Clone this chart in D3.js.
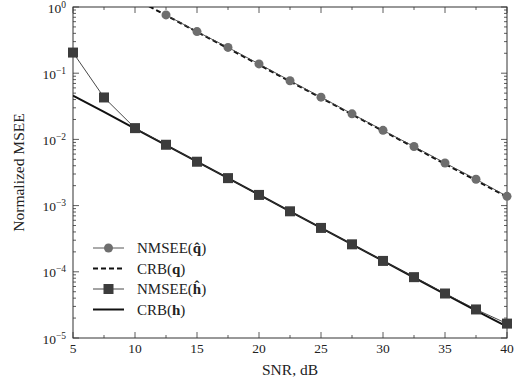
<!DOCTYPE html>
<html>
<head>
<meta charset="utf-8">
<script src="https://cdn.jsdelivr.net/npm/d3@7"></script>
<style>
  body { margin: 0; background: #fff; }
  text { font-family: "Liberation Serif", "DejaVu Serif", serif; fill: #222; }
</style>
</head>
<body>
<div id="chart"></div>
<script>
// SNR grid (dB)
var snr = [5, 7.5, 10, 12.5, 15, 17.5, 20, 22.5, 25, 27.5, 30, 32.5, 35, 37.5, 40]
var snrQ = [10, 12.5, 15, 17.5, 20, 22.5, 25, 27.5, 30, 32.5, 35, 37.5, 40]
var snrQhat = [12.5, 15, 17.5, 20, 22.5, 25, 27.5, 30, 32.5, 35, 37.5, 40]

var nmseeQ = [0.76, 0.425, 0.245, 0.138, 0.077, 0.0435, 0.0243, 0.0137, 0.0078, 0.0044, 0.0025, 0.00138]
var crbQ = [1.33, 0.75, 0.42, 0.238, 0.134, 0.075, 0.0424, 0.0238, 0.0134, 0.0076, 0.00425, 0.0024, 0.00135]
var nmseeH = [0.205, 0.043, 0.0148, 0.0083, 0.0046, 0.0026, 0.00145, 0.00082, 0.00046, 0.00026, 0.000146, 0.000083, 0.000047, 0.000027, 0.0000165]
var crbH = [0.046, 0.026, 0.0146, 0.0082, 0.0046, 0.0026, 0.00146, 0.00082, 0.00046, 0.00026, 0.000146, 0.000082, 0.000046, 0.000026, 0.0000148]

var xTicks = [5, 10, 15, 20, 25, 30, 35, 40]
var yExps = [0, -1, -2, -3, -4, -5]
var legendLabels = ['NMSEE(q̂)', 'CRB(q)', 'NMSEE(ĥ)', 'CRB(h)']

;(function() {
  var W = 526, H = 386,
    mL = 73, mR = 507, mT = 7, mB = 338

  var svg = d3.select('#chart').append('svg').attr('width', W).attr('height', H)

  var x = d3.scaleLinear().domain([5, 40]).range([mL, mR])
  var y = d3.scaleLog().domain([1e-5, 1]).range([mB, mT])

  svg.append('defs').append('clipPath').attr('id', 'clip')
    .append('rect').attr('x', mL).attr('y', mT).attr('width', mR - mL).attr('height', mB - mT)

  // ticks: majors and minors on all four sides, pointing inward
  var minorX = d3.range(7.5, 40, 5)
  var minorY = []
  yExps.slice(0, -1).forEach(function(e) {
    for (var k = 2; k <= 9; k++) minorY.push(k * Math.pow(10, e - 1))
  })

  var tg = svg.append('g').attr('stroke', '#333').attr('stroke-width', 0.8)
  xTicks.forEach(function(v) {
    tg.append('line').attr('x1', x(v)).attr('x2', x(v)).attr('y1', mB).attr('y2', mB - 6)
    tg.append('line').attr('x1', x(v)).attr('x2', x(v)).attr('y1', mT).attr('y2', mT + 6)
  })
  minorX.forEach(function(v) {
    tg.append('line').attr('x1', x(v)).attr('x2', x(v)).attr('y1', mB).attr('y2', mB - 3)
    tg.append('line').attr('x1', x(v)).attr('x2', x(v)).attr('y1', mT).attr('y2', mT + 3)
  })
  yExps.forEach(function(e) {
    var yy = y(Math.pow(10, e))
    tg.append('line').attr('x1', mL).attr('x2', mL + 6).attr('y1', yy).attr('y2', yy)
    tg.append('line').attr('x1', mR).attr('x2', mR - 6).attr('y1', yy).attr('y2', yy)
  })
  minorY.forEach(function(v) {
    tg.append('line').attr('x1', mL).attr('x2', mL + 3).attr('y1', y(v)).attr('y2', y(v))
    tg.append('line').attr('x1', mR).attr('x2', mR - 3).attr('y1', y(v)).attr('y2', y(v))
  })

  // frame
  svg.append('rect').attr('x', mL).attr('y', mT).attr('width', mR - mL).attr('height', mB - mT)
    .attr('fill', 'none').attr('stroke', '#333').attr('stroke-width', 1)

  // tick labels
  svg.append('g').selectAll('text').data(xTicks).enter().append('text')
    .attr('x', function(d) { return x(d) }).attr('y', mB + 15)
    .attr('text-anchor', 'middle').attr('font-size', 13.5).text(function(d) { return d })

  var yl = svg.append('g').selectAll('text').data(yExps).enter().append('text')
    .attr('x', mL - 7).attr('y', function(d) { return y(Math.pow(10, d)) + 5.5 })
    .attr('text-anchor', 'end').attr('font-size', 13.5)
  yl.append('tspan').text('10')
  yl.append('tspan').attr('dy', -5).attr('font-size', 9.5).text(function(d) { return d < 0 ? '\u2212' + (-d) : d })

  svg.append('text').attr('x', (mL + mR) / 2).attr('y', 375)
    .attr('text-anchor', 'middle').attr('font-size', 15.5).text('SNR, dB')
  svg.append('text').attr('transform', 'translate(24,' + ((mT + mB) / 2) + ') rotate(-90)')
    .attr('text-anchor', 'middle').attr('font-size', 15.5).text('Normalized MSEE')

  // series
  var line = d3.line().x(function(d) { return x(d[0]) }).y(function(d) { return y(d[1]) })
  var plot = svg.append('g').attr('clip-path', 'url(#clip)')

  plot.append('path').datum(d3.zip(snrQ, crbQ)).attr('d', line)
    .attr('fill', 'none').attr('stroke', '#111').attr('stroke-width', 2).attr('stroke-dasharray', '5,3')
  plot.append('path').datum(d3.zip(snrQhat, nmseeQ)).attr('d', line)
    .attr('fill', 'none').attr('stroke', '#444').attr('stroke-width', 0.9)
  plot.append('path').datum(d3.zip(snr, crbH)).attr('d', line)
    .attr('fill', 'none').attr('stroke', '#111').attr('stroke-width', 2)
  plot.append('path').datum(d3.zip(snr, nmseeH)).attr('d', line)
    .attr('fill', 'none').attr('stroke', '#333').attr('stroke-width', 0.9)

  svg.append('g').selectAll('circle').data(d3.zip(snrQhat, nmseeQ)).enter().append('circle')
    .attr('cx', function(d) { return x(d[0]) }).attr('cy', function(d) { return y(d[1]) })
    .attr('r', 4.5).attr('fill', '#6e6e6e')
  svg.append('g').selectAll('rect').data(d3.zip(snr, nmseeH)).enter().append('rect')
    .attr('x', function(d) { return x(d[0]) - 5 }).attr('y', function(d) { return y(d[1]) - 5 })
    .attr('width', 10).attr('height', 10).attr('fill', '#3c3c3c')

  // legend
  var lg = svg.append('g')
  legendLabels.forEach(function(lab, i) {
    var ly = 248 + i * 20.5
    var l = lg.append('line').attr('x1', 93).attr('x2', 124).attr('y1', ly).attr('y2', ly)
    if (i === 0) {
      l.attr('stroke', '#444').attr('stroke-width', 0.9)
      lg.append('circle').attr('cx', 108.5).attr('cy', ly).attr('r', 4.5).attr('fill', '#6e6e6e')
    } else if (i === 1) {
      l.attr('stroke', '#111').attr('stroke-width', 2).attr('stroke-dasharray', '5,3')
    } else if (i === 2) {
      l.attr('stroke', '#333').attr('stroke-width', 0.9)
      lg.append('rect').attr('x', 103.5).attr('y', ly - 5).attr('width', 10).attr('height', 10).attr('fill', '#3c3c3c')
    } else {
      l.attr('stroke', '#111').attr('stroke-width', 2)
    }
    var t = lg.append('text').attr('x', 137).attr('y', ly + 5).attr('font-size', 15)
    var m = lab.match(/^(\w+)\((.+)\)$/)
    t.append('tspan').text(m[1] + '(')
    t.append('tspan').attr('font-weight', 'bold').text(m[2])
    t.append('tspan').text(')')
  })
})()
</script>
</body>
</html>
